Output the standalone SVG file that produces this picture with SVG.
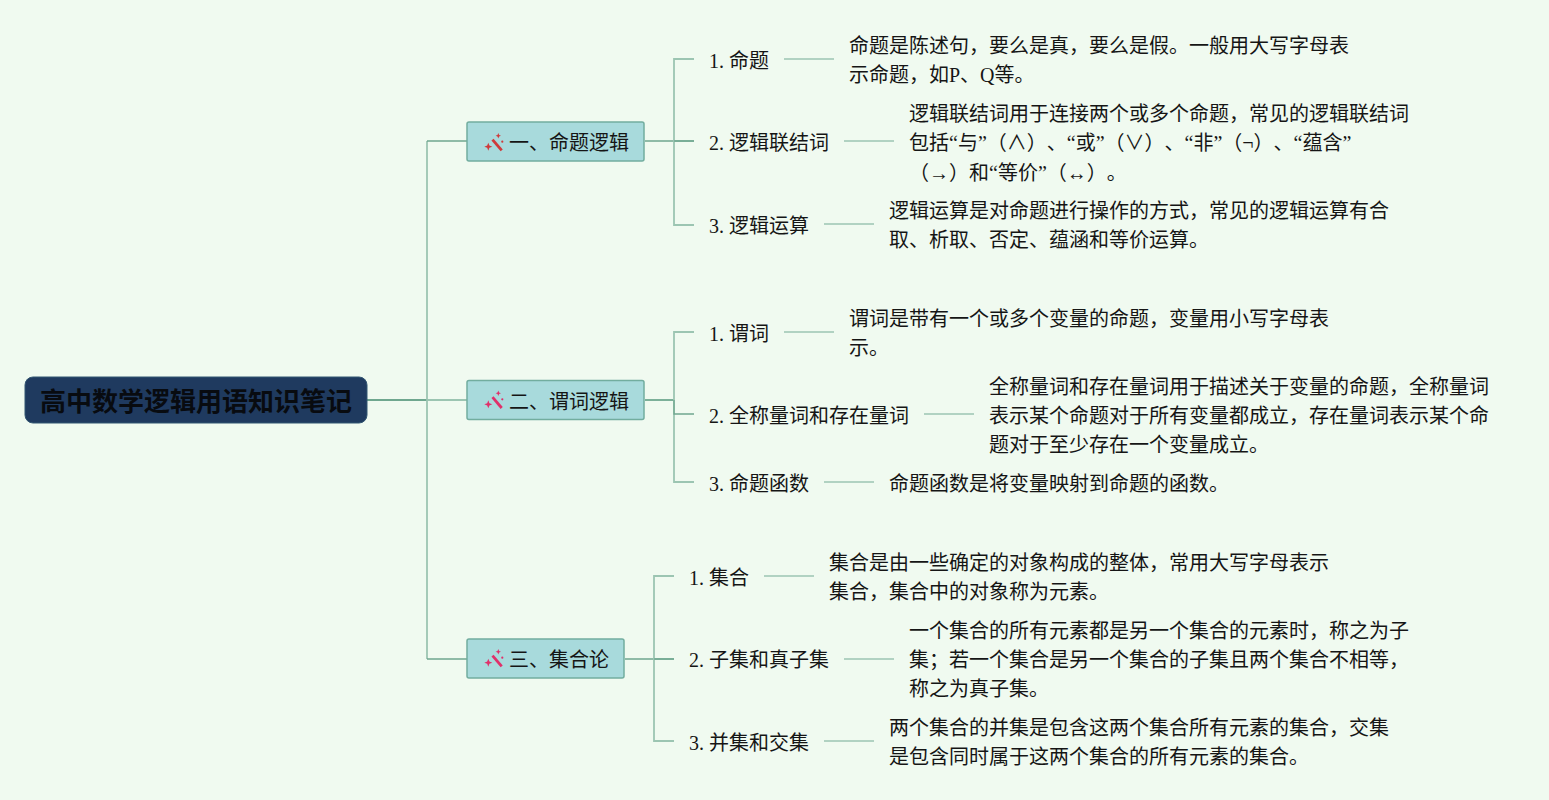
<svg xmlns="http://www.w3.org/2000/svg" width="1549" height="800" viewBox="0 0 1549 800">
<style>
text{font-family:"Liberation Serif","Noto Sans CJK SC",serif;font-size:20px;fill:#151515;text-spacing-trim:space-all}
.root{fill:#1f3a5f;stroke:#335672;stroke-width:1}
.rt{font-size:26px;font-weight:700;fill:#080b10}
.branch{fill:#a8dadc;stroke:#72ad9f;stroke-width:1.5}
.c{fill:none;stroke:#6fa78f;stroke-width:1.3}
.t{fill:none;stroke:#6fa78f;stroke-width:1.800}
.l{fill:none;stroke:#9cc5b2;stroke-width:1.4}
.u{fill:none;stroke:#9cc5b2;stroke-width:1.800}
</style>
<defs>
<g id="wand" fill="currentColor"><path d="M6.500 4.200L15.700 15" fill="none" stroke="currentColor" stroke-width="2.800"/><path d="M2.300 7.300L3.400 10.200L6.300 11.300L3.400 12.400L2.300 15.300L1.200 12.400L-1.700 11.300L1.200 10.200Z"/><path d="M12.300-2.400L13.100-.5L15 .3L13.100 1.100L12.300 3L11.500 1.100L9.600 .3L11.500-.5Z"/><circle cx="16.300" cy="6.300" r="1.100"/></g>
</defs>
<rect width="1549" height="800" fill="#f0faf0"/>
<g id="connectors">
<path class="t" d="M367 400H427"/>
<path class="u" d="M427 400H467"/>
<path class="u" d="M427 141V659"/>
<path class="c" d="M427 141H467M427 659H467"/>
<path class="c" d="M645 141H694M625 659H674"/>
<path class="t" d="M645 400H674"/>
<path class="u" d="M694 59H674V225H694"/>
<path class="c" d="M674 141H694"/>
<path class="u" d="M694 332H674V482H694"/>
<path class="c" d="M674 400V414H694"/>
<path class="u" d="M674 576H654V741H674"/>
<path class="c" d="M654 659H674"/>
<path class="l" d="M784 59H834M844 141H894M824 224H874M784 332H834M924 414H974M824 482H874M764 576H814M844 659H894M824 741H874"/>
</g>
<g id="root"><rect class="root" x="25" y="377" width="342" height="46" rx="8"/><text class="rt" x="40" y="411">高中数学逻辑用语知识笔记</text></g>
<g id="b1"><rect class="branch" x="467" y="122" width="177" height="39" rx="2"/><use href="#wand" x="486" y="135.400" color="#cf3a3a"/><text x="509" y="150">一、命题逻辑</text></g>
<g id="b2"><rect class="branch" x="467" y="380.500" width="177" height="39" rx="2"/><use href="#wand" x="486" y="393" color="#e0306a"/><text x="509" y="409">二、谓词逻辑</text></g>
<g id="b3"><rect class="branch" x="467" y="639" width="157" height="39" rx="2"/><use href="#wand" x="486" y="651.400" color="#e0306a"/><text x="509" y="667">三、集合论</text></g>
<g id="n11"><text x="709" y="68">1. 命题</text></g>
<g id="n12"><text x="709" y="150">2. 逻辑联结词</text></g>
<g id="n13"><text x="709" y="233">3. 逻辑运算</text></g>
<g id="n21"><text x="709" y="341">1. 谓词</text></g>
<g id="n22"><text x="709" y="423">2. 全称量词和存在量词</text></g>
<g id="n23"><text x="709" y="491">3. 命题函数</text></g>
<g id="n31"><text x="689" y="585">1. 集合</text></g>
<g id="n32"><text x="689" y="667">2. 子集和真子集</text></g>
<g id="n33"><text x="689" y="750">3. 并集和交集</text></g>
<g id="d11"><text x="849" y="53">命题是陈述句，要么是真，要么是假。一般用大写字母表</text><text x="849" y="82">示命题，如P、Q等。</text></g>
<g id="d12"><text x="909" y="121">逻辑联结词用于连接两个或多个命题，常见的逻辑联结词</text><text x="909" y="150">包括“与”（∧）、“或”（∨）、“非”（¬）、“蕴含”</text><text x="909" y="180">（→）和“等价”（↔）。</text></g>
<g id="d13"><text x="889" y="218">逻辑运算是对命题进行操作的方式，常见的逻辑运算有合</text><text x="889" y="247">取、析取、否定、蕴涵和等价运算。</text></g>
<g id="d21"><text x="849" y="326">谓词是带有一个或多个变量的命题，变量用小写字母表</text><text x="849" y="355">示。</text></g>
<g id="d22"><text x="989" y="394">全称量词和存在量词用于描述关于变量的命题，全称量词</text><text x="989" y="423">表示某个命题对于所有变量都成立，存在量词表示某个命</text><text x="989" y="452">题对于至少存在一个变量成立。</text></g>
<g id="d23"><text x="889" y="491">命题函数是将变量映射到命题的函数。</text></g>
<g id="d31"><text x="829" y="570">集合是由一些确定的对象构成的整体，常用大写字母表示</text><text x="829" y="599">集合，集合中的对象称为元素。</text></g>
<g id="d32"><text x="909" y="638">一个集合的所有元素都是另一个集合的元素时，称之为子</text><text x="909" y="667">集；若一个集合是另一个集合的子集且两个集合不相等，</text><text x="909" y="696">称之为真子集。</text></g>
<g id="d33"><text x="889" y="735">两个集合的并集是包含这两个集合所有元素的集合，交集</text><text x="889" y="764">是包含同时属于这两个集合的所有元素的集合。</text></g>
</svg>
